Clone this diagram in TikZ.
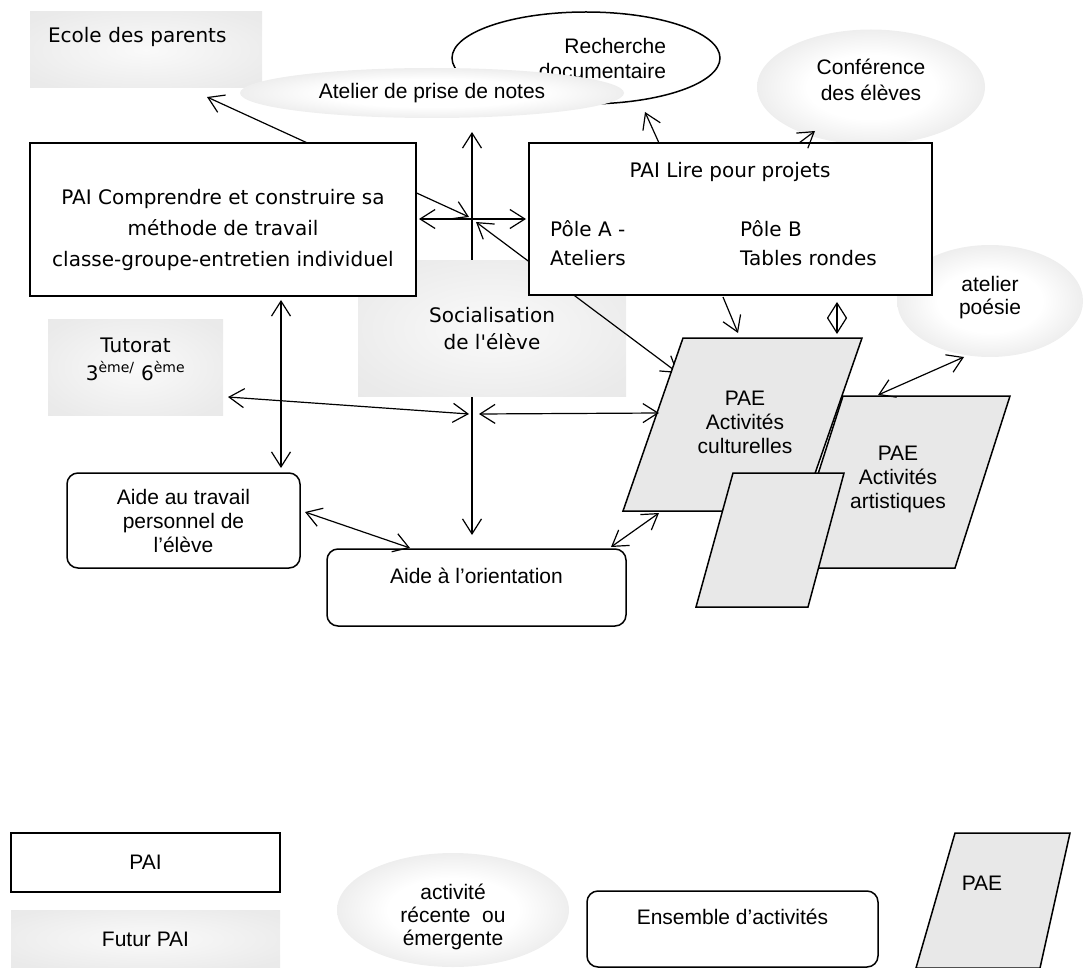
\documentclass[tikz,border=0pt]{standalone}
\usepackage{fontspec}
\setmainfont{Liberation Sans}
\newfontfamily\comicfont{DejaVu Sans}
\usetikzlibrary{arrows.meta, shapes.geometric, positioning, calc}
\pgfdeclareradialshading{halo}{\pgfpoint{0bp}{0bp}}{color(0bp)=(white); color(14bp)=(white); color(50bp)=(black!22); color(75bp)=(black!22)}
\pgfdeclareradialshading{voile}{\pgfpoint{0bp}{0bp}}{color(0bp)=(black!2); color(30bp)=(black!8); color(71bp)=(black!12)}

\begin{document}
\begin{tikzpicture}[x=1pt, y=-1pt,
    >={Straight Barb[length=15pt,width=19pt]},
    pai/.style={draw, line width=1.5pt, fill=white, inner sep=0pt},
    futur/.style={shading=voile, inner sep=0pt},
    bulle/.style={ellipse, shading=halo, inner sep=0pt},
    ensemble/.style={draw, line width=1.5pt, fill=white, rounded corners=11pt, inner sep=0pt},
    pae/.style={draw, line width=1.5pt, fill=black!9},
    fleche/.style={line width=1.2pt},
    comic/.style={font=\comicfont\fontsize{20}{#1}\selectfont, align=center},
    comic/.default=31,
    arial/.style={font=\fontsize{21}{#1}\selectfont, align=center},
    arial/.default=24]
    \useasboundingbox (0,0) rectangle (1084,968);
%
    \coordinate (cross) at (472,219);
    \coordinate (crossW) at (419,219);
    \coordinate (crossE) at (526,219);
    \coordinate (crossN) at (472,132);
    \coordinate (crossS) at (472,535);
    \coordinate (crossNW) at (469,217);
    \coordinate (crossSE) at (476,222);
    \coordinate (ecoleT) at (207,97);
    \coordinate (cultW) at (678,373);
    \coordinate (rechB) at (645,112);
    \coordinate (lireN1) at (659,143);
    \coordinate (confB) at (815,131);
    \coordinate (lireN2) at (799,143);
    \coordinate (lireS1) at (723,297);
    \coordinate (cultN1) at (738,333);
    \coordinate (lireS2) at (837,302);
    \coordinate (cultN2) at (837,334);
    \coordinate (compS) at (281,300);
    \coordinate (aideN) at (281,468);
    \coordinate (tutE) at (228,397);
    \coordinate (axeW) at (469,414);
    \coordinate (axeE) at (479,414);
    \coordinate (cultW2) at (659,413);
    \coordinate (aideE) at (305,512);
    \coordinate (orientN) at (410,548);
    \coordinate (orientE) at (611,547);
    \coordinate (cultS) at (659,513);
    \coordinate (artN) at (878,395);
    \coordinate (poesieS) at (964,357);
%
    \node[futur, comic=30, minimum width=232pt, minimum height=76pt, text width=196pt, align=left] (ecole) at (146,50) {Ecole des parents\\\mbox{}};
    \node[pai, ellipse, arial=25, minimum width=268pt, minimum height=92pt, text width=160pt, align=right] (recherche) at (586,58) {Recherche\\documentaire};
    \node[bulle, arial, minimum width=384pt, minimum height=50pt] (atelier) at (432,93) {Atelier de prise de notes};
    \node[bulle, arial=26, minimum width=228pt, minimum height=115pt] (conf) at (871,87) {Conférence\\des élèves\\[-12pt]\mbox{}};
%
    \draw[fleche,<->] (crossN) -- (crossS);
    \draw[fleche,<->] (ecoleT) -- (crossNW);
    \node[futur, comic=27, minimum width=268pt, minimum height=135pt] (social) at (492,328.5) {Socialisation\\de l'élève};
    \draw[fleche,<->] (crossSE) -- (cultW);
%
    \node[pai, comic, minimum width=386pt, minimum height=153pt] (comprendre) at (223,219.5) {\strut\\[-16pt]PAI Comprendre et construire sa\\méthode de travail\\classe-groupe-entretien individuel};
    \node[bulle, arial=23, minimum width=186pt, minimum height=112pt] (poesie) at (990,301) {atelier\\poésie\\[-11pt]\mbox{}};
    \node[pai, minimum width=403pt, minimum height=152pt] (lire) at (730.5,219) {};
    \node[comic] (lireT) at (730,172) {PAI Lire pour projets};
    \node[comic=29, align=left, anchor=west, inner sep=0pt] (poleA) at (550,243.5) {Pôle A -\\Ateliers};
    \node[comic=29, align=left, anchor=west, inner sep=0pt] (poleB) at (740,243.5) {Pôle B\\Tables rondes};
    \draw[fleche,<->] (crossW) -- (crossE);
%
    \draw[pae] (683,338) -- (862,338) -- (802,511) -- (623,511) -- cycle;
    \node[arial] (cult) at (745,422) {PAE\\Activités\\culturelles};
    \draw[pae] (843,396) -- (1010,396) -- (955,568) -- (788,568) -- cycle;
    \node[arial] (art) at (898,479) {PAE\\Activités\\artistiques};
    \draw[pae] (733,473) -- (844,473) -- (808,607) -- (696,607) -- cycle;
%
    \node[futur, comic=28, minimum width=175pt, minimum height=96pt] (tutorat) at (135.5,367) {Tutorat\\3\textsuperscript{ème/} 6\textsuperscript{ème}\\[-12pt]\mbox{}};
    \node[ensemble, arial, minimum width=233pt, minimum height=95pt] (aide) at (183.5,520.5) {Aide au travail\\personnel de\\l’élève};
    \node[ensemble, arial, minimum width=299pt, minimum height=77pt] (orient) at (476.5,587.5) {Aide à l’orientation\\\mbox{}};
%
    \draw[fleche,->] (lireN1) -- (rechB);
    \draw[fleche,->] (lireN2) -- (confB);
    \draw[fleche,->] (lireS1) -- (cultN1);
    \draw[fleche,<->] (lireS2) -- (cultN2);
    \draw[fleche,<->] (compS) -- (aideN);
    \draw[fleche,<->] (tutE) -- (axeW);
    \draw[fleche,<->] (axeE) -- (cultW2);
    \draw[fleche,<->] (aideE) -- (orientN);
    \draw[fleche,<->] (orientE) -- (cultS);
    \draw[fleche,<->] (artN) -- (poesieS);
%
    \node[pai, arial, minimum width=269pt, minimum height=59pt] (legPAI) at (145.5,862.5) {PAI};
    \node[futur, arial, minimum width=269pt, minimum height=58pt] (legFutur) at (145.5,939) {Futur PAI};
    \node[bulle, arial=23, minimum width=232pt, minimum height=114pt] (legActivite) at (453,910) {\strut\\[-10pt]activité\\récente~ ou\\émergente};
    \node[ensemble, arial, minimum width=291pt, minimum height=76pt] (legEnsemble) at (732.5,929) {Ensemble d’activités\\\mbox{}};
    \draw[pae] (955,833) -- (1070,833) -- (1040,968) -- (916,968) -- cycle;
    \node[arial] (legPAE) at (982,883) {PAE};
\end{tikzpicture}
\end{document}
